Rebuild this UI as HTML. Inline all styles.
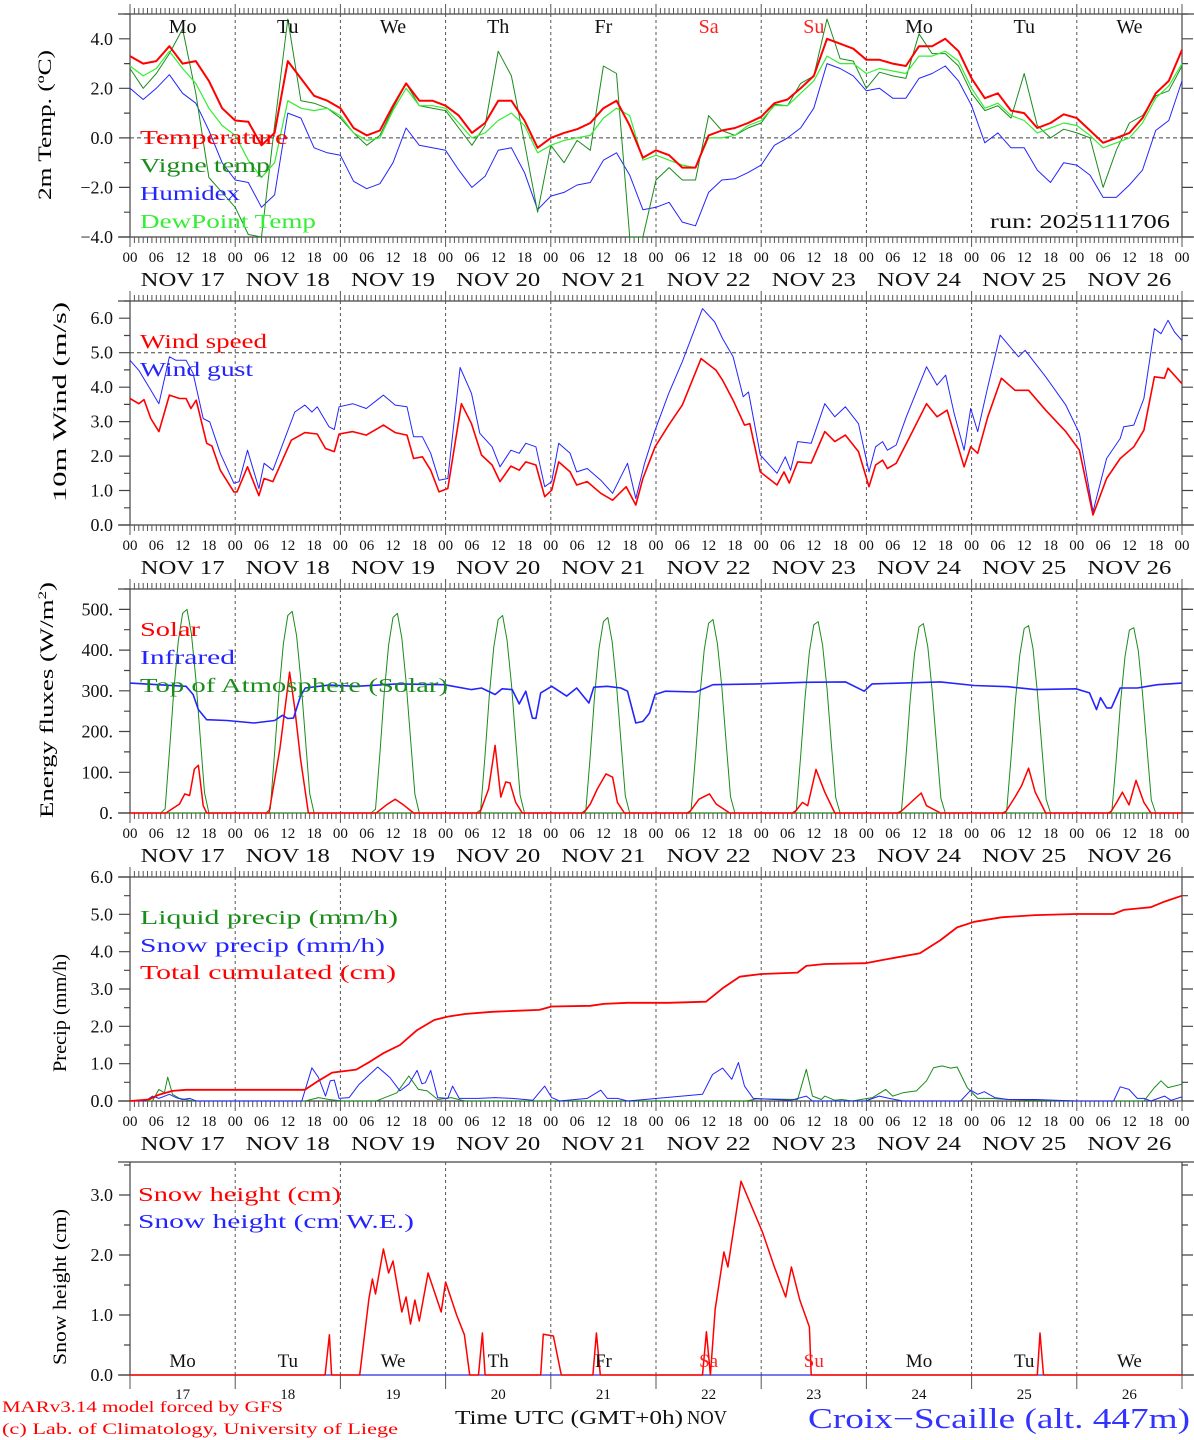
<!DOCTYPE html>
<html><head><meta charset="utf-8">
<style>
body{margin:0;background:#fff}
svg{display:block;font-family:"Liberation Serif","DejaVu Serif",serif}
</style></head>
<body>
<svg id="chart" width="1194" height="1440" viewBox="0 0 1194 1440">
<rect x="0" y="0" width="1194" height="1440" fill="#fff"/>
<g id="grid"></g>
<g id="series"></g>
<g id="labels"></g>

<!-- y axis titles -->
<text transform="translate(51,125) rotate(-90)" text-anchor="middle" font-size="19" textLength="150" lengthAdjust="spacingAndGlyphs">2m Temp. (ºC)</text>
<text transform="translate(66,402) rotate(-90)" text-anchor="middle" font-size="19" textLength="200" lengthAdjust="spacingAndGlyphs">10m Wind (m/s)</text>
<text transform="translate(53,700) rotate(-90)" text-anchor="middle" font-size="19" textLength="236" lengthAdjust="spacingAndGlyphs">Energy fluxes (W/m<tspan font-size="12" dy="-7">2</tspan><tspan dy="7">)</tspan></text>
<text transform="translate(66,1013) rotate(-90)" text-anchor="middle" font-size="19" textLength="118" lengthAdjust="spacingAndGlyphs">Precip (mm/h)</text>
<text transform="translate(66,1287) rotate(-90)" text-anchor="middle" font-size="19" textLength="156" lengthAdjust="spacingAndGlyphs">Snow height (cm)</text>

<!-- legends -->
<g font-size="20">
<text x="140" y="144" fill="#ff0000" textLength="148" lengthAdjust="spacingAndGlyphs">Temperature</text>
<text x="140" y="172" fill="#1a8c1a" textLength="130" lengthAdjust="spacingAndGlyphs">Vigne temp</text>
<text x="140" y="200" fill="#2424ff" textLength="100" lengthAdjust="spacingAndGlyphs">Humidex</text>
<text x="140" y="228" fill="#33ee33" textLength="176" lengthAdjust="spacingAndGlyphs">DewPoint Temp</text>
<text x="990" y="228" fill="#111" textLength="180" lengthAdjust="spacingAndGlyphs">run: 2025111706</text>

<text x="140" y="348" fill="#ff0000" textLength="127" lengthAdjust="spacingAndGlyphs">Wind speed</text>
<text x="140" y="376" fill="#2424ff" textLength="113" lengthAdjust="spacingAndGlyphs">Wind gust</text>

<text x="140" y="636" fill="#ff0000" textLength="60" lengthAdjust="spacingAndGlyphs">Solar</text>
<text x="140" y="664" fill="#2424ff" textLength="95" lengthAdjust="spacingAndGlyphs">Infrared</text>
<text x="140" y="692" fill="#1a8c1a" textLength="308" lengthAdjust="spacingAndGlyphs">Top of Atmosphere (Solar)</text>

<text x="140" y="924" fill="#1a8c1a" textLength="258" lengthAdjust="spacingAndGlyphs">Liquid precip (mm/h)</text>
<text x="140" y="952" fill="#2424ff" textLength="245" lengthAdjust="spacingAndGlyphs">Snow precip (mm/h)</text>
<text x="140" y="979" fill="#ff0000" textLength="256" lengthAdjust="spacingAndGlyphs">Total cumulated (cm)</text>

<text x="138" y="1201" fill="#ff0000" textLength="203" lengthAdjust="spacingAndGlyphs">Snow height (cm)</text>
<text x="138" y="1228" fill="#2424ff" textLength="276" lengthAdjust="spacingAndGlyphs">Snow height (cm W.E.)</text>
</g>

<!-- footer -->
<text x="2" y="1412" font-size="16" fill="#ff0000" textLength="281" lengthAdjust="spacingAndGlyphs">MARv3.14 model forced by GFS</text>
<text x="2" y="1434" font-size="16" fill="#ff0000" textLength="396" lengthAdjust="spacingAndGlyphs">(c) Lab. of Climatology, University of Liege</text>
<text x="455" y="1424" font-size="20" fill="#111" textLength="228" lengthAdjust="spacingAndGlyphs">Time UTC (GMT+0h)</text>
<text x="687" y="1424" font-size="20" fill="#111" textLength="40" lengthAdjust="spacingAndGlyphs">NOV</text>
<text x="808" y="1428" font-size="28" fill="#3333ff" textLength="382" lengthAdjust="spacingAndGlyphs">Croix−Scaille (alt. 447m)</text>
</svg>

<script>
// ---------- data ----------
const dayNames = ["Mo","Tu","We","Th","Fr","Sa","Su","Mo","Tu","We"];
const dayNumbers = ["17","18","19","20","21","22","23","24","25","26"];
const hourTickLabels = ["00","06","12","18"];
const hours3 = [0,3,6,9,12,15,18,21,24,27,30,33,36,39,42,45,48,51,54,57,60,63,66,69,72,75,78,81,84,87,90,93,96,99,102,105,108,111,114,117,120,123,126,129,132,135,138,141,144,147,150,153,156,159,162,165,168,171,174,177,180,183,186,189,192,195,198,201,204,207,210,213,216,219,222,225,228,231,234,237,240];

const tempVals = [3.3,3.0,3.1,3.7,3.0,3.1,2.3,1.2, 0.7,0.65,-0.3,0.2,3.1,2.4,1.7,1.5, 1.2,0.4,0.1,0.3,1.3,2.2,1.5,1.5, 1.3,0.9,0.2,0.6,1.5,1.5,0.7,-0.4, 0,0.2,0.35,0.6,1.2,1.5,0.5,-0.8, -0.5,-0.7,-1.2,-1.2,0.1,0.3,0.4,0.6, 0.85,1.4,1.55,2.0,2.5,4.0,3.8,3.6, 3.15,3.15,3.0,2.9,3.7,3.7,4.0,3.5, 2.4,1.6,1.8,1.1,1.0,0.4,0.6,0.95, 0.8,0.3,-0.2,0.0,0.2,0.8,1.8,2.3, 3.55];
const dewVals = [2.9,2.5,2.8,3.5,2.8,2.2,1.2,0.5, 0.1,-0.9,-1.6,-1.0,1.5,1.2,1.1,1.2, 0.9,0.2,-0.1,0.0,1.1,2.0,1.3,1.3, 1.2,0.6,0.0,0.2,0.7,1.0,0.5,-0.6, -0.3,-0.1,0.0,0.1,0.8,1.2,0.9,-0.9, -0.7,-0.9,-1.1,-1.2,0.0,0.0,0.1,0.5, 0.7,1.3,1.3,1.8,2.3,3.3,3.0,3.0, 2.6,2.8,2.7,2.6,3.3,3.3,3.5,3.1, 2.0,1.2,1.4,0.9,0.7,0.2,0.4,0.6, 0.5,0.1,-0.4,-0.2,0.0,0.6,1.6,2.1, 3.0];
const vigneVals = [2.8,2.0,2.6,3.4,4.4,1.8,-1.6,-2.2, -2.8,-3.9,-4.0,0.5,4.8,1.5,1.4,1.2, 0.8,0.2,-0.3,0.1,1.2,2.2,1.3,1.2, 1.1,0.4,-0.3,0.5,3.5,2.5,-0.2,-3.0, -0.3,-1.0,-0.1,-0.5,2.9,2.6,-4.0,-4.0, -1.7,-1.2,-1.7,-1.7,0.9,0.3,0.1,0.4, 0.6,1.35,1.3,2.2,2.5,4.8,3.2,3.1, 2.0,2.65,2.5,2.4,4.2,3.4,3.4,2.9, 1.8,1.1,1.3,0.8,2.6,0.5,0.0,0.35, 0.2,0.0,-2.0,-0.5,0.6,0.9,1.7,1.9, 2.9];
const humidexVals = [2.0,1.55,2.0,2.55,1.8,1.4,0.3,-1.0, -1.7,-1.8,-2.8,-2.3,1.0,0.8,-0.4,-0.6, -0.7,-1.75,-2.05,-1.85,-1.0,0.4,-0.3,-0.4, -0.5,-1.3,-2.0,-1.55,-0.5,-0.4,-1.4,-2.9, -2.35,-2.2,-1.9,-1.8,-0.9,-0.6,-1.5,-2.9, -2.8,-2.6,-3.4,-3.55,-2.2,-1.7,-1.65,-1.4, -1.1,-0.3,0.0,0.4,1.2,3.0,2.8,2.5, 1.9,2.0,1.6,1.6,2.4,2.6,2.9,2.3, 1.3,-0.2,0.2,-0.4,-0.4,-1.3,-1.8,-1.0, -1.1,-1.5,-2.4,-2.4,-1.9,-1.3,0.3,0.7, 2.3];

const windHours = [0,2,3.2,4.75,6.6,9,11.3,12.8,13.9,15.1,17.5,18.7,20.6,23.7,24.4,26.8,29.4,30.6,32.6,36.8,39.9,42.7,44.6,46.6,47.7,50.8,53.9,57.8,60.5,63.2,64.7,66.7,68.6,70.5,72.5,75.6,77.9,80.2,82.6,84.4,86.9,88.8,90.3,92.6,94.6,96.2,97.8,100.4,101.9,104.3,107.4,110.1,113.2,115.4,117,119.8,122.9,126,130.3,133.7,135.2,137.6,140.2,141.4,143.8,147.6,149.2,150.4,152.3,155.4,158.5,160.8,163.2,166.2,168.6,170.1,171.7,172.8,174.8,177.9,181.7,184.1,186.4,190.3,191.8,193.4,195.7,198.8,201.9,205,208.9,213.5,216.6,219.7,222.8,225.9,229,231.3,233.7,236,236.8,240];
const windSpeed = [3.67,3.52,3.64,3.09,2.71,3.77,3.67,3.67,3.38,3.62,2.37,2.29,1.59,0.96,0.96,1.69,0.85,1.35,1.26,2.46,2.68,2.64,2.22,2.13,2.64,2.71,2.61,2.90,2.68,2.61,1.93,1.98,1.59,0.96,1.06,3.52,2.94,2.03,1.74,1.26,1.71,1.59,1.83,1.74,0.82,1.01,1.83,1.54,1.16,1.26,0.92,0.72,1.11,0.58,1.35,2.27,2.90,3.48,4.83,4.49,4.20,3.62,2.90,2.94,1.54,1.16,1.54,1.22,1.83,1.80,2.71,2.42,2.61,2.13,1.11,1.74,1.88,1.64,1.79,2.56,3.52,3.14,3.33,1.69,2.27,2.08,3.14,4.26,3.91,3.91,3.33,2.71,2.17,0.29,1.35,1.93,2.27,2.75,4.30,4.26,4.55,4.10];
const gustHours = [0,2,4.3,6.6,9,10.5,12.8,14.4,16.7,18.2,20.6,23.7,24.9,26.8,29.4,30.6,32.6,37.6,39.9,41.5,42.7,45.4,46.6,47.7,50.8,53.9,57.8,60.5,63.2,64.7,66.7,68.6,70.5,72.5,75.3,77.9,79.8,82.6,84.4,86.9,88.8,90.3,92.6,94.6,96.2,97.8,100.4,101.9,104.3,107.4,110.1,113.5,115.4,117.4,119.8,122.9,126,130.6,133.4,135.2,137.6,139.9,141.1,143.8,147.6,149.5,150.7,152.3,155.4,158.5,160.8,163.2,166.2,168.6,170.1,171.7,172.8,174.8,177.1,181.7,184.1,186.1,188,190.3,191.8,193.4,195.7,198.5,202.7,204.2,208.9,213.5,216.6,219.7,222.8,225.9,226.7,229,231.3,233.7,235.2,236.8,238.3,240];
const windGust = [4.78,4.49,4.01,3.52,4.88,4.78,4.78,4.40,3.09,2.99,2.08,1.21,1.26,2.17,1.06,1.79,1.59,3.28,3.48,3.28,3.43,2.85,2.77,3.43,3.52,3.38,3.77,3.48,3.43,2.56,2.56,2.08,1.30,1.35,4.57,3.82,2.66,2.27,1.69,2.17,2.08,2.37,2.27,1.11,1.26,2.37,2.08,1.54,1.64,1.30,0.92,1.79,0.77,1.79,2.75,3.82,4.74,6.28,5.89,5.41,4.88,3.72,3.86,2.03,1.50,1.98,1.59,2.42,2.37,3.52,3.14,3.43,2.94,1.54,2.27,2.42,2.17,2.32,3.14,4.59,4.06,4.35,3.24,2.17,3.38,2.71,4.01,5.51,4.88,5.07,4.30,3.48,2.66,0.39,1.93,2.51,2.85,2.90,3.67,5.70,5.55,5.94,5.60,5.35];

const toaStartHour = 7;
const toaDaily = [
 [0,10,150,300,420,490,500,440,330,190,50,0],
 [0,10,148,297,416,485,495,435,326,186,48,0],
 [0,9,146,294,412,480,490,430,322,183,46,0],
 [0,8,144,291,408,475,485,425,318,180,44,0],
 [0,8,142,288,404,470,480,420,314,177,42,0],
 [0,7,140,285,400,466,475,416,310,174,40,0],
 [0,7,138,282,396,462,470,412,306,171,38,0],
 [0,6,136,279,392,457,465,408,302,168,36,0],
 [0,6,134,276,388,453,460,404,298,165,34,0],
 [0,5,132,273,384,449,455,400,294,162,32,0]
];
const irHours = [0,12.8,14.4,15.6,17.5,22.1,28.3,33,34.8,36,37.3,38.9,40,45.4,51.6,60.9,71.7,77.9,80.2,83.3,84.9,87.2,88.8,90.3,91.8,92.6,93.7,96.2,99.6,101.9,104.7,105.8,108.9,112,113.5,115.4,117,118.5,119.8,122.1,129.1,133,143,153.9,163.2,167.5,169.3,184.9,192.6,200.3,206.5,215.8,218.9,220.5,221.4,222.8,223.9,225.9,229.8,234.4,240];
const irVals = [319,311,291,254,229,227,221,227,240,232,233,287,307,314,311,317,315,303,307,291,305,303,268,299,233,232,295,311,287,307,270,309,311,307,299,221,225,245,291,299,297,315,317,321,322,299,317,322,313,310,303,305,295,254,283,258,258,307,307,315,319];
const solarHours = [0,8.2,11.3,12.5,13.6,14.7,15.6,16.7,17.5, 31.7,34.2,36.4,37.6,38.9,40.7, 56.2,58.5,60.5,62.4,64.7, 79.8,81.8,83.3,84.6,85.7,86.7,88,89.5, 103.5,105,106.6,108.6,110.1,111.2,112.8, 127.5,129.8,132.2,133.7,136.8, 151.5,153.4,154.6,156.5,158.5,160.8, 175.5,180.5,181.7,184.9, 199.6,201.9,203.4,205,206.5,208.9, 223.6,225.1,226.4,227.9,229.5,231.3,232.9,240];
const solarVals = [0,0,22,47,43,108,117,18,0, 0,158,346,256,133,0, 0,20,34,20,0, 0,59,166,39,76,74,26,0, 0,22,59,96,88,26,0, 0,34,47,22,0, 0,26,18,107,51,0, 0,49,18,0, 0,39,67,110,51,0, 0,26,51,20,80,26,0,0];

const cumHours = [0,4.3,6.6,9.7,12.8,39.9,43,46.1,51.6,54.7,57.8,61.6,65.5,69.4,72.5,76.4,82.6,88.8,93.4,96.2,105,108.1,113.5,122.9,131.4,135.2,139.1,143.8,152.3,154.3,158.5,167.8,170.9,180.2,184.9,188.7,192.6,198.8,206.5,215.8,224.4,226.7,232.9,236,240];
const cumVals = [0,0.04,0.17,0.27,0.3,0.3,0.54,0.76,0.84,1.05,1.28,1.5,1.9,2.17,2.26,2.33,2.39,2.42,2.44,2.53,2.55,2.6,2.63,2.63,2.66,3.02,3.33,3.4,3.44,3.62,3.67,3.69,3.76,3.96,4.31,4.65,4.8,4.92,4.98,5.01,5.01,5.12,5.19,5.34,5.5];
const liqHours = [0,5.1,6.6,7.85,8.6,9.7,11.3,14.4,40,43,45.4,48.5,56.2,60.9,63.6,65.8,67.8,70.2,73.3,76.4,140.7,143,152.3,154.3,155.7,157.7,158.5,160.8,162.4,164.7,169.4,172.4,174,176.3,179.4,181.7,183.3,185.3,187.2,188.7,191,193.4,196.5,200.3,206.5,215.8,231.3,233.7,235.2,236.8,240];
const liqVals = [0,0,0.31,0.22,0.64,0.18,0.07,0,0,0.09,0.04,0,0,0.22,0.67,0.31,0.27,0.04,0.09,0,0,0.06,0.04,0.85,0.13,0.04,0.13,0.02,0.04,0,0.09,0.31,0.13,0.22,0.27,0.54,0.89,0.94,0.88,0.91,0.36,0.07,0.07,0.04,0.02,0,0,0.36,0.54,0.36,0.45];
const snowPrHours = [0,3.5,5.1,6.6,9,10.5,12,13.6,15.1,39.2,41.5,43,44.6,45.7,46.6,47.7,50,52.3,56.5,59.3,61.6,63.6,65.5,66.6,67.4,68.6,70.2,72.5,73.6,75.1,79.5,83.3,87.2,91.9,94.6,96.2,98,104.3,107.4,108.9,111.2,113.5,130.6,132.9,135.2,137.3,138.8,140.2,142.2,150.7,154.3,155.7,167.8,170.9,173.2,176.3,189.5,191.8,193.4,194.9,197.3,200.3,206.5,215.8,224.4,225.9,227.9,229.8,231.3,232.9,236,237.5,240];
const snowPrVals = [0,0,0.13,0.07,0.18,0.09,0.04,0.07,0,0,0.89,0.63,0.13,0.54,0.56,0.07,0.09,0.45,0.91,0.63,0.27,0.45,0.82,0.46,0.49,0.82,0.09,0.07,0.4,0.07,0.07,0.09,0.07,0.02,0.4,0.09,0,0.07,0.29,0.07,0.07,0,0.18,0.71,0.88,0.58,1.03,0.4,0.07,0.02,0.13,0,0,0.13,0.07,0,0,0.29,0.18,0.25,0.09,0.04,0.04,0,0,0.38,0.31,0.07,0.07,0,0.13,0.02,0.11];

const snowHours = [0,44.5,45.5,46,52.4,54.5,55.3,56,57.8,59,60,62,63,64,65,66,68,71,72,74.5,76.3,77.5,79.5,80.4,81,93.7,94.3,96.6,98.4,105.6,106.4,107.3,130.6,131.5,132.4,133.5,135.5,136.4,139.4,144.3,147,149.6,150.9,152.8,155,155.4,207,207.6,208.4,240];
const snowCm = [0,0,0.67,0,0,1.27,1.6,1.35,2.1,1.7,1.9,1.05,1.3,0.85,1.25,0.9,1.7,1.05,1.55,1.0,0.67,0,0,0.7,0,0,0.68,0.65,0,0,0.7,0,0,0.72,0,1.1,2.05,1.8,3.23,2.38,1.8,1.3,1.8,1.25,0.8,0,0,0.7,0,0];
const snowWE = [0,0];
const snowWEHours = [0,240];

// ---------- layout ----------
const NS = "http://www.w3.org/2000/svg";
const X0 = 130, X1 = 1182;
function xAt(h){ return X0 + h * (X1 - X0) / 240; }
const panels = {
  temp:   {top:14,  bottom:237,  min:-4, max:5,    major:[-4,-2,0,2,4], minorStep:1,  fmt:v=>(v<0?"−":"")+Math.abs(v).toFixed(1), hourRow:true},
  wind:   {top:301, bottom:525,  min:0,  max:6.5,  major:[0,1,2,3,4,5,6], minorStep:0.5, fmt:v=>v.toFixed(1), hourRow:true},
  energy: {top:589, bottom:813,  min:0,  max:550,  major:[0,100,200,300,400,500], minorStep:50, fmt:v=>v+".", hourRow:true},
  precip: {top:877, bottom:1101, min:0,  max:6,    major:[0,1,2,3,4,5,6], minorStep:0.5, fmt:v=>v.toFixed(1), hourRow:true},
  snow:   {top:1162,bottom:1375, min:0,  max:3.55, major:[0,1,2,3], minorStep:0.5, fmt:v=>v.toFixed(1), hourRow:false}
};
function yAt(p, v){ return p.bottom - (v - p.min) / (p.max - p.min) * (p.bottom - p.top); }

const gGrid = document.getElementById("grid");
const gSeries = document.getElementById("series");
const gLabels = document.getElementById("labels");
function mk(tag, attrs, parent){
  const e = document.createElementNS(NS, tag);
  for (const k in attrs) e.setAttribute(k, attrs[k]);
  parent.appendChild(e);
  return e;
}
function txt(s, attrs, parent){
  const e = mk("text", attrs, parent);
  e.textContent = s;
  return e;
}

// frames, ticks, grid
for (const key in panels){
  const p = panels[key];
  const frame = mk("path", {d:`M118 ${p.top}H1194M118 ${p.bottom}H1194M${X0} ${p.top}V${p.bottom}M${X1} ${p.top}V${p.bottom}`, stroke:"#444", "stroke-width":1.2, fill:"none"}, gGrid);
  
  
  // hourly ticks
  let d = "";
  if (p.hourRow){
    for (let h = 0; h <= 240; h++){
      const x = xAt(h).toFixed(1);
      const len = (h % 24 === 0) ? 10 : 6;
      d += `M${x} ${p.top}v${-len}M${x} ${p.bottom}v${len}`;
    }
  } else {
    for (let h = 0; h <= 240; h += 24){
      const x = xAt(h).toFixed(1);
      d += `M${x} ${p.bottom}v14`;
    }
  }
  const ticks = mk("path", {d:d, stroke:"#555", "stroke-width":1, fill:"none"}, gGrid);
  
  
  // y ticks
  let yd = "";
  for (let v = p.min; v <= p.max + 1e-9; v += p.minorStep){
    const y = yAt(p, v).toFixed(1);
    const isMajor = p.major.some(m => Math.abs(m - v) < 1e-9);
    const len = isMajor ? 11 : 6;
    yd += `M${X0} ${y}h${-len}M${X1} ${y}h${len}`;
  }
  const yt = mk("path", {d:yd, stroke:"#444", "stroke-width":1.2, fill:"none"}, gGrid);
  
  
  for (const v of p.major){
    const t = txt(p.fmt(v), {x:113, y:(yAt(p, v) + 6).toFixed(1), "text-anchor":"end", "font-size":18, fill:"#111"}, gLabels);
    
    
  }
  // day separators
  let dd = "";
  for (let day = 1; day < 10; day++){
    const x = xAt(day * 24).toFixed(1);
    dd += `M${x} ${p.top}V${p.bottom}`;
  }
  const dl = mk("path", {d:dd, stroke:"#555", "stroke-width":1, "stroke-dasharray":"3,3", fill:"none"}, gGrid);
  
  
  // hour labels + date labels
  if (p.hourRow){
    for (let day = 0; day < 10; day++){
      for (let i = 0; i < hourTickLabels.length; i++){
        const t = txt(hourTickLabels[i], {x:xAt(day*24 + i*6).toFixed(1), y:p.bottom + 25, "text-anchor":"middle", "font-size":15, fill:"#111"}, gLabels);
        
        
      }
      const dt = txt("NOV " + dayNumbers[day], {x:xAt(day*24 + 12).toFixed(1), y:p.bottom + 49, "text-anchor":"middle", "font-size":20, fill:"#111", textLength:84, lengthAdjust:"spacingAndGlyphs"}, gLabels);
      
      
    }
    const t = txt("00", {x:xAt(240).toFixed(1), y:p.bottom + 25, "text-anchor":"middle", "font-size":15, fill:"#111"}, gLabels);
    
    
  }
}
// reference dashed lines
const ref0 = mk("line", {x1:X0, x2:X1, y1:yAt(panels.temp,0), y2:yAt(panels.temp,0), stroke:"#444", "stroke-dasharray":"4,3"}, gGrid);


const ref5 = mk("line", {x1:X0, x2:X1, y1:yAt(panels.wind,5), y2:yAt(panels.wind,5), stroke:"#444", "stroke-dasharray":"4,3"}, gGrid);



// day names
for (let day = 0; day < 10; day++){
  const col = (day === 5 || day === 6) ? "#ff2020" : "#111";
  const a = txt(dayNames[day], {x:xAt(day*24+12).toFixed(1), y:33, "text-anchor":"middle", "font-size":20, fill:col}, gLabels);
  
  
  const b = txt(dayNames[day], {x:xAt(day*24+12).toFixed(1), y:1367, "text-anchor":"middle", "font-size":19, fill:col}, gLabels);
  
  
  const c = txt(dayNumbers[day], {x:xAt(day*24+12).toFixed(1), y:1399, "text-anchor":"middle", "font-size":15, fill:"#111"}, gLabels);
  
  
}

// series
function series(p, hrs, vals, color, width, name){
  let pts = [];
  for (let i = 0; i < vals.length; i++){
    let v = Math.max(p.min, Math.min(p.max, vals[i]));
    pts.push(xAt(hrs[i]).toFixed(1) + "," + yAt(p, v).toFixed(1));
  }
  const l = mk("polyline", {points:pts.join(" "), fill:"none", stroke:color, "stroke-width":width, "stroke-linejoin":"round"}, gSeries);
  
  
}
const P = panels;
series(P.temp, hours3, humidexVals, "#2424ff", 1, "humidex-line");
series(P.temp, hours3, vigneVals, "#1a8c1a", 1, "vigne-temp-line");
series(P.temp, hours3, dewVals, "#33ee33", 1.2, "dewpoint-line");
series(P.temp, hours3, tempVals, "#ff0000", 2, "temperature-line");

series(P.wind, gustHours, windGust, "#2424ff", 1, "wind-gust-line");
series(P.wind, windHours, windSpeed, "#ff0000", 1.6, "wind-speed-line");

for (let d = 0; d < toaDaily.length; d++){
  const hrs = [], vals = [];
  for (let i = 0; i < toaDaily[d].length; i++){ hrs.push(d*24 + toaStartHour + i); vals.push(toaDaily[d][i]); }
  series(P.energy, hrs, vals, "#1a8c1a", 1, "toa-solar-line");
}
series(P.energy, [0,240], [0,0], "#1a8c1a", 1, "toa-solar-baseline");
series(P.energy, solarHours, solarVals, "#ff0000", 1.5, "solar-line");
series(P.energy, irHours, irVals, "#2424ff", 1.6, "infrared-line");

series(P.precip, liqHours, liqVals, "#1a8c1a", 1, "liquid-precip-line");
series(P.precip, snowPrHours, snowPrVals, "#2424ff", 1, "snow-precip-line");
series(P.precip, cumHours, cumVals, "#ff0000", 1.8, "total-cumulated-line");

series(P.snow, snowWEHours, snowWE, "#2424ff", 1, "snow-height-we-line");
series(P.snow, snowHours, snowCm, "#ff0000", 1.5, "snow-height-line");
</script>
</body></html>
